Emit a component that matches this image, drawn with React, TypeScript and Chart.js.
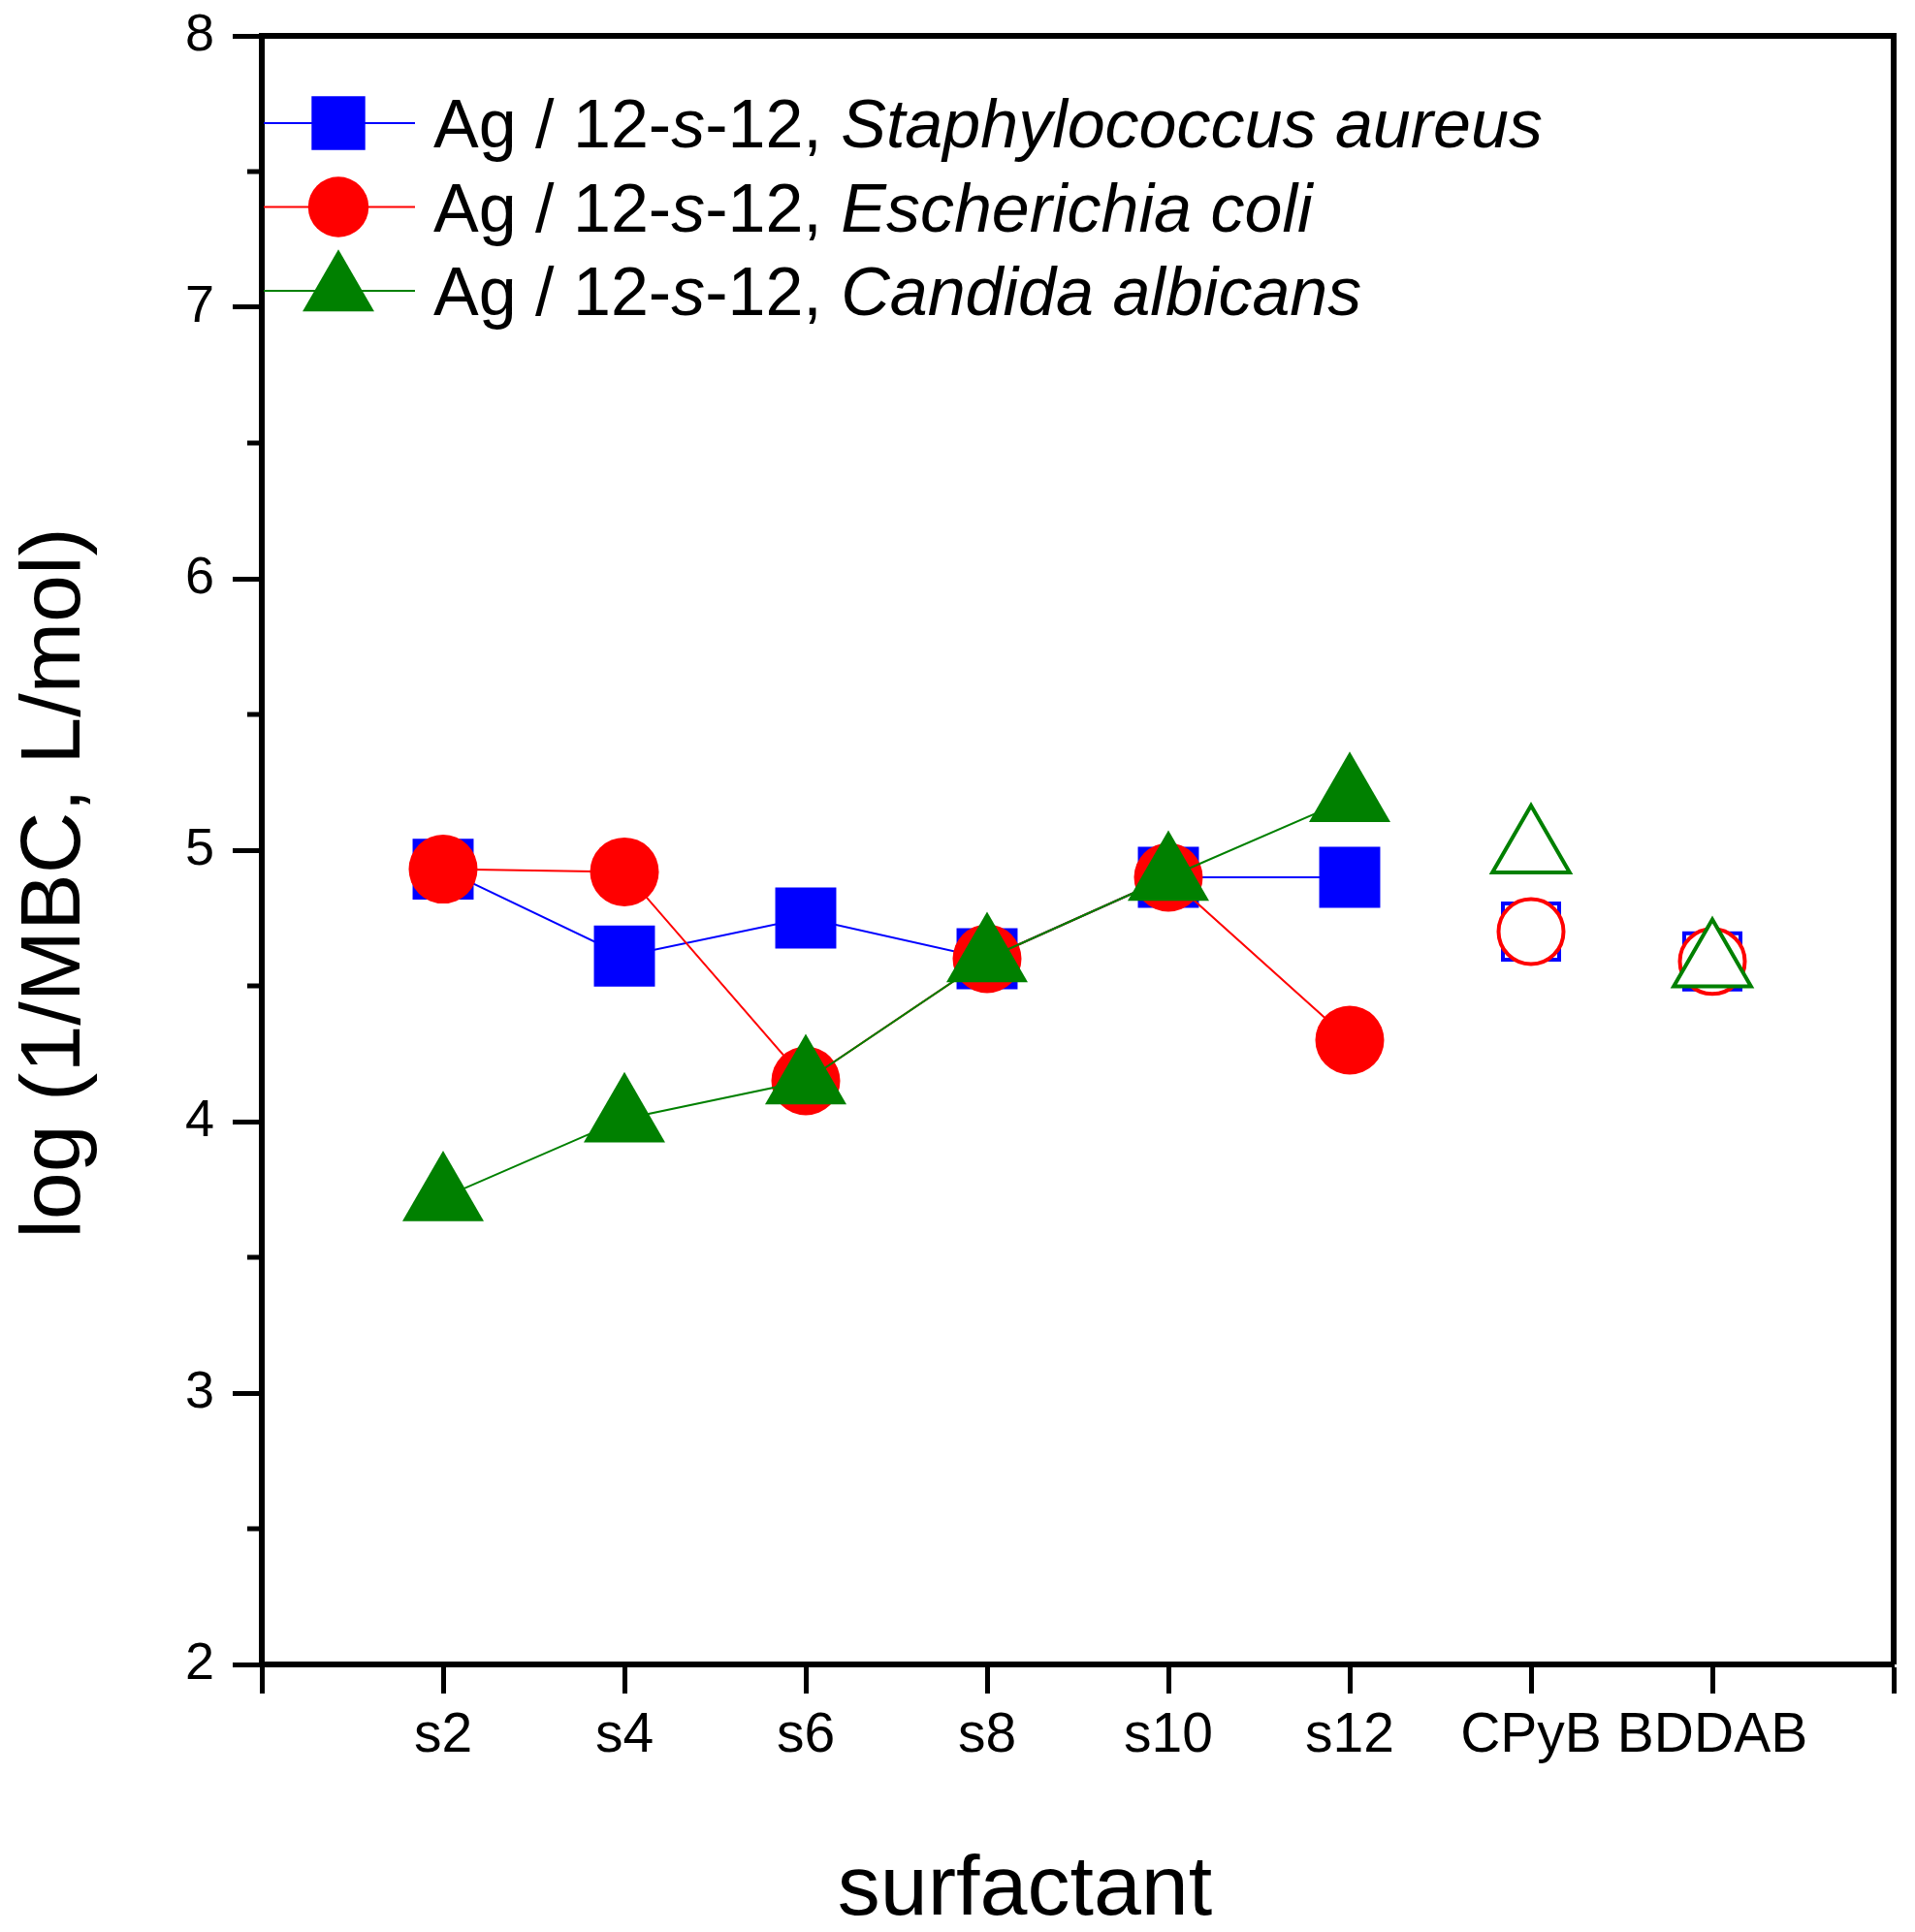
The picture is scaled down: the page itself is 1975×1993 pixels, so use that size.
import { useEffect, useRef } from "react";
import { Chart, registerables, type Plugin } from "chart.js";

Chart.register(...registerables);

const categories = ["s2", "s4", "s6", "s8", "s10", "s12", "CPyB", "BDDAB"];
// reference surfactants are drawn as open symbols, not joined to the gemini series
const references = ["CPyB", "BDDAB"];

const staphAureus = [4.93, 4.61, 4.75, 4.6, 4.9, 4.9, 4.7, 4.59];
const eColi = [4.93, 4.92, 4.15, 4.6, 4.9, 4.3, 4.7, 4.59];
const cAlbicans = [3.72, 4.01, 4.15, 4.6, 4.9, 5.19, 5.0, 4.58];

const yMinorTicks = [2.5, 3.5, 4.5, 5.5, 6.5, 7.5];

const FONT = "'Liberation Sans', Arial, sans-serif";

type Marker = "rect" | "circle" | "triangle";

const series: {
  species: string;
  values: number[];
  color: string;
  marker: Marker;
  radius: number;
  openRadius: number;
  order: number;
}[] = [
  { species: "Staphylococcus aureus", values: staphAureus, color: "#0000ff", marker: "rect", radius: 44.5, openRadius: 41, order: 2 },
  { species: "Escherichia coli", values: eColi, color: "#ff0000", marker: "circle", radius: 35.5, openRadius: 33.5, order: 1 },
  { species: "Candida albicans", values: cAlbicans, color: "#008000", marker: "triangle", radius: 48.5, openRadius: 46, order: 0 },
];

const isRef = (i: number) => references.includes(categories[i]);

function drawMarker(
  ctx: CanvasRenderingContext2D,
  marker: Marker,
  x: number,
  y: number,
  r: number,
  color: string
) {
  ctx.beginPath();
  if (marker === "rect") {
    const h = r * Math.SQRT1_2;
    ctx.rect(x - h, y - h, 2 * h, 2 * h);
  } else if (marker === "circle") {
    ctx.arc(x, y, r, 0, Math.PI * 2);
  } else {
    let a = 0;
    ctx.moveTo(x + Math.sin(a) * r, y - Math.cos(a) * r);
    a += (2 * Math.PI) / 3;
    ctx.lineTo(x + Math.sin(a) * r, y - Math.cos(a) * r);
    a += (2 * Math.PI) / 3;
    ctx.lineTo(x + Math.sin(a) * r, y - Math.cos(a) * r);
    ctx.closePath();
  }
  ctx.fillStyle = color;
  ctx.fill();
}

const decorations: Plugin = {
  id: "decorations",
  afterDraw(chart) {
    const { ctx, chartArea: a } = chart;
    const y = chart.scales.y;
    ctx.save();

    // top and right frame
    ctx.strokeStyle = "#000";
    ctx.lineWidth = 6;
    ctx.beginPath();
    ctx.moveTo(a.left, a.top);
    ctx.lineTo(a.right, a.top);
    ctx.lineTo(a.right, a.bottom);
    ctx.stroke();

    // minor ticks on the y axis
    ctx.lineWidth = 5;
    yMinorTicks.forEach((v) => {
      const py = y.getPixelForValue(v);
      ctx.beginPath();
      ctx.moveTo(a.left - 15, py);
      ctx.lineTo(a.left, py);
      ctx.stroke();
    });

    // legend
    series.forEach((s, i) => {
      const ly = 127 + i * 86.5;
      ctx.strokeStyle = s.color;
      ctx.lineWidth = 2;
      ctx.beginPath();
      ctx.moveTo(a.left + 2, ly);
      ctx.lineTo(428, ly);
      ctx.stroke();
      drawMarker(ctx, s.marker, 349, ly, s.radius * 0.88, s.color);

      const parts: [string, boolean][] = [
        ["Ag / 12-", false],
        ["s", true],
        ["-12, ", false],
        [s.species, true],
      ];
      let tx = 447;
      ctx.fillStyle = "#000";
      ctx.textAlign = "left";
      ctx.textBaseline = "alphabetic";
      parts.forEach(([t, it]) => {
        ctx.font = `${it ? "italic " : ""}70px ${FONT}`;
        ctx.fillText(t, tx, ly + 25);
        tx += ctx.measureText(t).width;
      });
    });

    // axis titles
    ctx.fillStyle = "#000";
    ctx.font = `88px ${FONT}`;
    ctx.textAlign = "center";
    ctx.textBaseline = "alphabetic";
    ctx.fillText("surfactant", 1057, 1975);
    ctx.translate(82, 911);
    ctx.rotate(-Math.PI / 2);
    ctx.fillText("log (1/MBC, L/mol)", 0, 0);

    ctx.restore();
  },
};

export default function App() {
  const canvasRef = useRef<HTMLCanvasElement>(null);

  useEffect(() => {
    const canvas = canvasRef.current;
    if (!canvas) return;

    const axisGrid = {
      drawOnChartArea: false,
      drawTicks: true,
      tickLength: 30,
      tickWidth: 5,
      tickColor: "#000",
    };
    const axisBorder = { color: "#000", width: 6 };

    const chart = new Chart(canvas, {
      type: "line",
      data: {
        datasets: series.map((s) => ({
          label: s.species,
          data: s.values.map((v, i) => ({ x: i + 1, y: v })),
          order: s.order,
          borderColor: s.color,
          borderWidth: 2,
          fill: false,
          tension: 0,
          pointStyle: s.marker,
          pointRadius: (c: any) => (isRef(c.dataIndex) ? s.openRadius : s.radius),
          pointHoverRadius: (c: any) => (isRef(c.dataIndex) ? s.openRadius : s.radius),
          pointBackgroundColor: (c: any) => (isRef(c.dataIndex) ? "#ffffff" : s.color),
          pointBorderColor: s.color,
          pointBorderWidth: (c: any) => (isRef(c.dataIndex) ? 4 : 0),
          segment: {
            borderColor: (c: any) => (isRef(c.p1DataIndex) ? "transparent" : s.color),
          },
        })),
      },
      options: {
        responsive: false,
        devicePixelRatio: 1,
        animation: false,
        events: [],
        layout: {
          autoPadding: false,
          padding: { top: 37, right: 22, left: 0, bottom: 0 },
        },
        plugins: {
          legend: { display: false },
          tooltip: { enabled: false },
        },
        scales: {
          x: {
            type: "linear",
            min: 0,
            max: 9,
            afterFit: (s: any) => {
              s.height = 276;
              s.paddingLeft = 0;
              s.paddingRight = 0;
            },
            border: axisBorder,
            grid: axisGrid,
            ticks: {
              stepSize: 1,
              autoSkip: false,
              maxRotation: 0,
              padding: 10,
              color: "#000",
              font: { family: FONT, size: 57 },
              callback: (v: any) => categories[Number(v) - 1] ?? "",
            },
          },
          y: {
            min: 2,
            max: 8,
            afterFit: (s: any) => {
              s.width = 270;
              s.paddingTop = 0;
              s.paddingBottom = 0;
            },
            border: axisBorder,
            grid: axisGrid,
            ticks: {
              stepSize: 1,
              padding: 19,
              color: "#000",
              font: { family: FONT, size: 54 },
            },
          },
        },
      },
      plugins: [decorations],
    });

    return () => chart.destroy();
  }, []);

  return (
    <div style={{ position: "absolute", left: 0, top: 0, background: "#fff" }}>
      <canvas ref={canvasRef} width={1975} height={1993} style={{ display: "block" }} />
    </div>
  );
}
